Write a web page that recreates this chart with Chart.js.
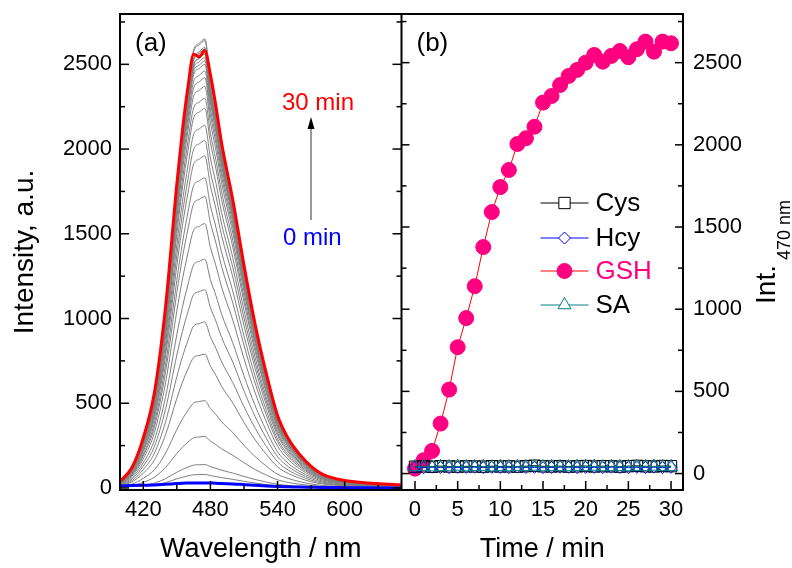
<!DOCTYPE html>
<html><head><meta charset="utf-8">
<script src="https://cdn.jsdelivr.net/npm/chart.js@4.4.1/dist/chart.umd.min.js"></script>
<style>html,body{margin:0;padding:0;background:#fff;}#wrap{width:792px;height:568px;}</style>
</head><body><div id="wrap"><canvas id="c" width="792" height="568"></canvas></div>
<script>
// ---------- Panel (a): emission spectra, one array per minute ----------
const wavelengths = [400,410,420,430,440,450,455,460,465,470,475,480,485,490,500,510,520,530,540,550,560,570,580,600,620,650];
const min00 = [12,14,16,18,22,26,28,29,30,30,30,29,28,26,24,20,16,12,9,7,5,4,3,2,1,0];
const min01 = [12,14,16,18,32,54,63,71,78,79,80,73,67,61,51,39,29,20,13,8,6,4,3,2,1,1];
const min02 = [12,14,17,29,55,93,109,123,135,137,138,126,116,105,88,68,50,35,22,15,10,7,4,2,2,1];
const min03 = [12,15,33,64,122,204,240,271,296,301,304,277,255,231,193,149,109,76,48,32,22,14,9,5,3,2];
const min04 = [12,23,57,108,206,345,407,458,502,510,515,469,433,391,327,252,185,129,81,55,37,24,15,8,6,4];
const min05 = [12,36,87,166,316,529,624,703,770,782,790,719,664,600,502,387,284,198,125,84,57,37,24,13,9,6];
const min06 = [15,44,108,206,392,657,774,872,956,970,980,892,823,745,622,480,353,245,155,104,71,46,29,16,11,7];
const min07 = [18,53,129,246,468,784,924,1041,1141,1158,1170,1065,983,889,743,573,421,293,185,124,84,55,35,19,13,8];
const min08 = [20,61,149,284,540,905,1067,1202,1316,1337,1350,1229,1134,1026,857,662,486,338,213,143,97,64,41,22,15,9];
const min09 = [23,70,172,328,624,1045,1232,1388,1521,1544,1560,1420,1310,1186,991,764,562,390,247,165,112,73,47,25,17,11];
const min10 = [26,77,189,361,688,1152,1359,1531,1677,1703,1720,1565,1445,1307,1092,843,619,430,272,182,124,81,52,28,19,12];
const min11 = [28,82,201,384,732,1226,1446,1629,1784,1812,1830,1665,1537,1391,1162,897,659,458,289,194,132,86,55,29,20,13];
const min12 = [29,88,216,412,784,1313,1548,1744,1911,1940,1960,1784,1646,1490,1245,960,706,490,310,208,141,92,59,31,22,14];
const min13 = [31,92,226,431,820,1374,1620,1825,1999,2030,2050,1866,1722,1558,1302,1005,738,513,324,217,148,96,62,33,23,14];
const min14 = [32,96,235,449,856,1434,1691,1905,2087,2119,2140,1947,1798,1626,1359,1049,770,535,338,227,154,101,64,34,24,15];
const min15 = [34,101,246,470,896,1501,1770,1994,2184,2218,2240,2038,1882,1702,1422,1098,806,560,354,237,161,105,67,36,25,16];
const min16 = [35,104,253,483,920,1541,1817,2047,2243,2277,2300,2093,1932,1748,1461,1127,828,575,363,244,166,108,69,37,25,16];
const min17 = [36,107,261,498,948,1588,1872,2109,2311,2346,2370,2157,1991,1801,1505,1161,853,593,374,251,171,111,71,38,26,17];
const min18 = [36,109,266,508,968,1621,1912,2154,2360,2396,2420,2202,2033,1839,1537,1186,871,605,382,257,174,114,73,39,27,17];
const min19 = [37,111,271,517,984,1648,1943,2189,2399,2435,2460,2239,2066,1870,1562,1205,886,615,389,261,177,116,74,39,27,17];
const min20 = [38,113,275,525,1000,1675,1975,2225,2438,2475,2500,2275,2100,1900,1588,1225,900,625,395,265,180,118,75,40,28,18];
const min21 = [38,114,279,533,1016,1702,2007,2261,2477,2515,2540,2311,2134,1930,1613,1245,914,635,401,269,183,119,76,41,28,18];
const min22 = [38,113,277,529,1008,1688,1991,2243,2457,2495,2520,2293,2117,1915,1600,1235,907,630,398,267,181,118,76,40,28,18];
const min23 = [38,115,282,538,1024,1715,2022,2278,2496,2534,2560,2330,2150,1946,1626,1254,922,640,404,271,184,120,77,41,28,18];
const min24 = [39,117,285,544,1036,1735,2046,2305,2525,2564,2590,2357,2176,1968,1645,1269,932,648,409,275,186,122,78,41,28,18];
const min25 = [38,115,281,537,1022,1716,2021,2279,2494,2536,2560,2328,2152,1944,1627,1253,921,641,405,272,184,121,77,41,28,18];
const min26 = [39,117,286,546,1040,1742,2054,2314,2535,2574,2600,2366,2184,1976,1651,1274,936,650,411,276,187,122,78,42,29,18];
const min27 = [40,119,292,557,1060,1776,2094,2359,2584,2624,2650,2412,2226,2014,1683,1299,954,663,419,281,191,125,80,42,29,19];
const min28 = [39,116,285,544,1037,1734,2047,2304,2526,2563,2590,2356,2177,1967,1646,1268,933,647,410,274,187,121,78,41,29,18];
const min29 = [40,119,290,554,1056,1769,2086,2350,2574,2614,2640,2402,2218,2006,1676,1294,950,660,417,280,190,124,79,42,29,18];
const min30 = [42,122,296,565,1075,1795,2110,2370,2560,2545,2580,2440,2250,2035,1700,1315,965,675,428,287,196,128,82,44,30,19];
const spectra = [min00,min01,min02,min03,min04,min05,min06,min07,min08,min09,min10,min11,min12,min13,min14,min15,
                 min16,min17,min18,min19,min20,min21,min22,min23,min24,min25,min26,min27,min28,min29,min30];

// ---------- Panel (b): intensity at 470 nm vs time ----------
const timeMin = [0,1,2,3,4,5,6,7,8,9,10,11,12,13,14,15,16,17,18,19,20,21,22,23,24,25,26,27,28,29,30];
const cysInt = [42,44,41,45,43,42,44,43,42,45,43,44,42,45,48,44,43,45,42,44,46,43,45,44,42,45,47,44,43,46,45];
const hcyInt = [38,36,39,37,36,38,37,39,36,38,37,36,39,37,38,36,37,39,38,36,37,38,36,39,37,36,38,37,39,36,38];
const gshInt = [30,81,138,304,511,769,946,1140,1378,1591,1743,1847,2005,2040,2110,2257,2297,2364,2419,2456,2500,2547,2506,2541,2571,2533,2582,2628,2567,2628,2618];
const saInt  = [40,42,39,41,40,43,40,41,42,39,41,40,42,41,43,40,42,41,40,42,41,43,40,42,41,40,42,41,43,42,41];

// ---------- Tick labels ----------
const wavelengthTicks = [420,480,540,600];
const timeTicks = [0,5,10,15,20,25,30];
const intensityTicks = [0,500,1000,1500,2000,2500];

const FONT = "'Liberation Sans', Arial, sans-serif";

const datasets = [];
spectra.forEach((arr, t) => {
  const first = t === 0, last = t === spectra.length - 1;
  datasets.push({
    label: t + ' min',
    data: wavelengths.map((w, i) => ({x: w, y: arr[i]})),
    xAxisID: 'xa', yAxisID: 'ya',
    borderColor: first ? '#0000ff' : last ? '#ff0000' : '#7f7f7f',
    borderWidth: (first || last) ? 3 : 1,
    pointRadius: 0,
    cubicInterpolationMode: 'monotone',
    order: last ? 10 : first ? 11 : 12
  });
});
function series(label, vals, opts) {
  return Object.assign({
    label,
    data: timeMin.map((t, i) => ({x: t, y: vals[i]})),
    xAxisID: 'xb', yAxisID: 'yb',
    borderWidth: 1, pointBorderWidth: 1
  }, opts);
}
datasets.push(series('SA', saInt, {borderColor: '#008080', pointStyle: 'triangle', pointRadius: 7.5,
  pointBorderColor: '#008080', pointBackgroundColor: 'rgba(255,255,255,0)', order: 0}));
datasets.push(series('Hcy', hcyInt, {borderColor: '#0000ff', pointStyle: 'rectRot', pointRadius: 6,
  pointBorderColor: '#0000ff', pointBackgroundColor: 'rgba(255,255,255,0)', order: 1}));
datasets.push(series('Cys', cysInt, {borderColor: '#000000', pointStyle: 'rect', pointRadius: 8,
  pointBorderColor: '#000000', pointBackgroundColor: 'rgba(255,255,255,0)', order: 2}));
datasets.push(series('GSH', gshInt, {borderColor: '#ff0000', pointStyle: 'circle', pointRadius: 7.5,
  pointBorderColor: '#ff0080', pointBackgroundColor: '#ff0080', order: 3}));

function fixedTicks(list) { return s => { s.ticks = list.map(v => ({value: v})); }; }
function fitBox(w, h) {
  return s => {
    if (w !== null) s.width = w;
    if (h !== null) s.height = h;
    s.paddingTop = 0; s.paddingBottom = 0; s.paddingLeft = 0; s.paddingRight = 0;
  };
}
const tickFont = {family: FONT, size: 22};
const titleFont = {family: FONT, size: 27};

function drawMarker(ctx, style, x, y, r, fill, stroke) {
  ctx.beginPath();
  if (style === 'circle') ctx.arc(x, y, r, 0, Math.PI * 2);
  else if (style === 'rect') { const s = r * Math.SQRT1_2; ctx.rect(x - s, y - s, 2 * s, 2 * s); }
  else if (style === 'rectRot') { ctx.moveTo(x - r, y); ctx.lineTo(x, y - r); ctx.lineTo(x + r, y); ctx.lineTo(x, y + r); ctx.closePath(); }
  else if (style === 'triangle') { ctx.moveTo(x, y - r); ctx.lineTo(x + 0.866 * r, y + 0.5 * r); ctx.lineTo(x - 0.866 * r, y + 0.5 * r); ctx.closePath(); }
  ctx.fillStyle = fill; ctx.fill();
  ctx.strokeStyle = stroke; ctx.lineWidth = 1; ctx.stroke();
}

function minorOf(majors, scale) {
  const out = [];
  const step = majors[1] - majors[0];
  const cand = [majors[0] - step / 2];
  for (let i = 0; i < majors.length - 1; i++) cand.push((majors[i] + majors[i + 1]) / 2);
  cand.push(majors[majors.length - 1] + step / 2);
  cand.forEach(v => { if (v >= scale.min && v <= scale.max) out.push(v); });
  return out;
}

const decor = {
  id: 'decor',
  afterDatasetsDraw(chart) {
    const {ctx, chartArea: ca, scales} = chart;
    const {xa, xb, ya, yb} = scales;
    const divX = xa.right;
    ctx.save();
    ctx.strokeStyle = '#000';
    ctx.lineWidth = 1.5;
    const vTick = (x, y, len) => { ctx.beginPath(); ctx.moveTo(x, y); ctx.lineTo(x + len, y); ctx.stroke(); };
    const hTick = (x, y, len) => { ctx.beginPath(); ctx.moveTo(x, y); ctx.lineTo(x, y - len); ctx.stroke(); };
    intensityTicks.forEach(v => { const y = ya.getPixelForValue(v); vTick(ca.left, y, 9); vTick(divX, y, -9); });
    minorOf(intensityTicks, ya).forEach(v => { const y = ya.getPixelForValue(v); vTick(ca.left, y, 5); vTick(divX, y, -5); });
    intensityTicks.forEach(v => { const y = yb.getPixelForValue(v); vTick(ca.right, y, -8); vTick(divX, y, 8); });
    minorOf(intensityTicks, yb).forEach(v => { const y = yb.getPixelForValue(v); vTick(ca.right, y, -5); vTick(divX, y, 5); });
    wavelengthTicks.forEach(v => hTick(xa.getPixelForValue(v), ca.bottom, 9));
    minorOf(wavelengthTicks, xa).forEach(v => hTick(xa.getPixelForValue(v), ca.bottom, 5));
    timeTicks.forEach(v => hTick(xb.getPixelForValue(v), ca.bottom, 9));
    minorOf(timeTicks, xb).forEach(v => hTick(xb.getPixelForValue(v), ca.bottom, 5));
    ctx.lineWidth = 2;
    ctx.strokeRect(ca.left, ca.top, ca.right - ca.left, ca.bottom - ca.top);
    ctx.beginPath(); ctx.moveTo(divX, ca.top); ctx.lineTo(divX, ca.bottom); ctx.stroke();
    ctx.restore();
  },
  afterDraw(chart) {
    const {ctx, chartArea: ca, scales} = chart;
    const {xa, yb} = scales;
    ctx.save();
    ctx.textBaseline = 'middle';
    ctx.textAlign = 'left';
    ctx.fillStyle = '#000';
    ctx.font = '26px ' + FONT;
    ctx.fillText('(a)', ca.left + 15, ca.top + 30);
    ctx.fillText('(b)', xa.right + 15, ca.top + 30);
    ctx.font = '24px ' + FONT;
    ctx.fillStyle = '#ff0000';
    ctx.fillText('30 min', xa.left + 162, ca.top + 89);
    ctx.fillStyle = '#0000ff';
    ctx.fillText('0 min', xa.left + 163, ca.top + 224);
    const ax = xa.left + 191, ay0 = ca.top + 206, ay1 = ca.top + 103;
    ctx.strokeStyle = '#333'; ctx.lineWidth = 1;
    ctx.beginPath(); ctx.moveTo(ax, ay0); ctx.lineTo(ax, ay1 + 10); ctx.stroke();
    ctx.fillStyle = '#000';
    ctx.beginPath(); ctx.moveTo(ax, ay1); ctx.lineTo(ax + 3.5, ay1 + 12); ctx.lineTo(ax - 3.5, ay1 + 12); ctx.closePath(); ctx.fill();
    const items = [
      {label: 'Cys', y: 203, text: '#000'},
      {label: 'Hcy', y: 238, text: '#000'},
      {label: 'GSH', y: 271, text: '#ff0080'},
      {label: 'SA',  y: 305, text: '#000'}
    ];
    const lx0 = xa.right + 139, lx1 = xa.right + 187, mx = xa.right + 163, tx = xa.right + 194;
    ctx.font = '26px ' + FONT;
    items.forEach(it => {
      const ds = chart.data.datasets.find(d => d.label === it.label);
      ctx.strokeStyle = ds.borderColor; ctx.lineWidth = 1;
      ctx.beginPath(); ctx.moveTo(lx0, it.y); ctx.lineTo(lx1, it.y); ctx.stroke();
      const fill = ds.pointBackgroundColor === 'rgba(255,255,255,0)' ? '#ffffff' : ds.pointBackgroundColor;
      drawMarker(ctx, ds.pointStyle, mx, it.y, ds.pointRadius, fill, ds.pointBorderColor);
      ctx.fillStyle = it.text;
      ctx.fillText(it.label, tx, it.y + 1);
    });
    ctx.fillStyle = '#000';
    const big = '28px ' + FONT, small = '18px ' + FONT;
    ctx.font = big; const wInt = ctx.measureText('Int.').width;
    ctx.font = small; const wSub = ctx.measureText('470 nm').width;
    const gap = 5, total = wInt + gap + wSub;
    const cy = (ca.top + ca.bottom) / 2;
    ctx.translate(yb.right - 25, cy + total / 2);
    ctx.rotate(-Math.PI / 2);
    ctx.font = big; ctx.fillText('Int.', 0, 0);
    ctx.font = small; ctx.fillText('470 nm', wInt + gap, 18);
    ctx.restore();
  }
};

new Chart(document.getElementById('c'), {
  type: 'line',
  data: {datasets},
  plugins: [decor],
  options: {
    responsive: false,
    animation: false,
    events: [],
    layout: {padding: {top: 14, left: 0, right: 0, bottom: 0}},
    plugins: {legend: {display: false}, tooltip: {enabled: false}},
    scales: {
      xa: {
        type: 'linear', position: 'bottom', stack: 'bottom', stackWeight: 1,
        min: 399.2, max: 650.8,
        afterBuildTicks: fixedTicks(wavelengthTicks),
        afterFit: fitBox(null, 78),
        grid: {display: false, drawTicks: false}, border: {display: false},
        ticks: {font: tickFont, color: '#000', padding: 7, autoSkip: false, maxRotation: 0, callback: v => String(v)},
        title: {display: true, text: 'Wavelength / nm', font: titleFont, color: '#000', padding: {top: 0, bottom: 2}}
      },
      xb: {
        type: 'linear', position: 'bottom', stack: 'bottom', stackWeight: 1,
        min: -1.58, max: 31.4,
        afterBuildTicks: fixedTicks(timeTicks),
        afterFit: fitBox(null, 78),
        grid: {display: false, drawTicks: false}, border: {display: false},
        ticks: {font: tickFont, color: '#000', padding: 7, autoSkip: false, maxRotation: 0, callback: v => String(v)},
        title: {display: true, text: 'Time / min', font: titleFont, color: '#000', padding: {top: 0, bottom: 2}}
      },
      ya: {
        type: 'linear', position: 'left', min: -12, max: 2797,
        afterBuildTicks: fixedTicks(intensityTicks),
        afterFit: fitBox(120, null),
        grid: {display: false, drawTicks: false}, border: {display: false},
        ticks: {font: tickFont, color: '#000', padding: 8, callback: v => String(v)},
        title: {display: true, text: 'Intensity, a.u.', font: {family: FONT, size: 28}, color: '#000', padding: {top: 8, bottom: 0}}
      },
      yb: {
        type: 'linear', position: 'right', min: -100, max: 2796,
        afterBuildTicks: fixedTicks(intensityTicks),
        afterFit: fitBox(109, null),
        grid: {display: false, drawTicks: false}, border: {display: false},
        ticks: {font: tickFont, color: '#000', padding: 10, callback: v => String(v)},
        title: {display: false}
      }
    }
  }
});
</script></body></html>
